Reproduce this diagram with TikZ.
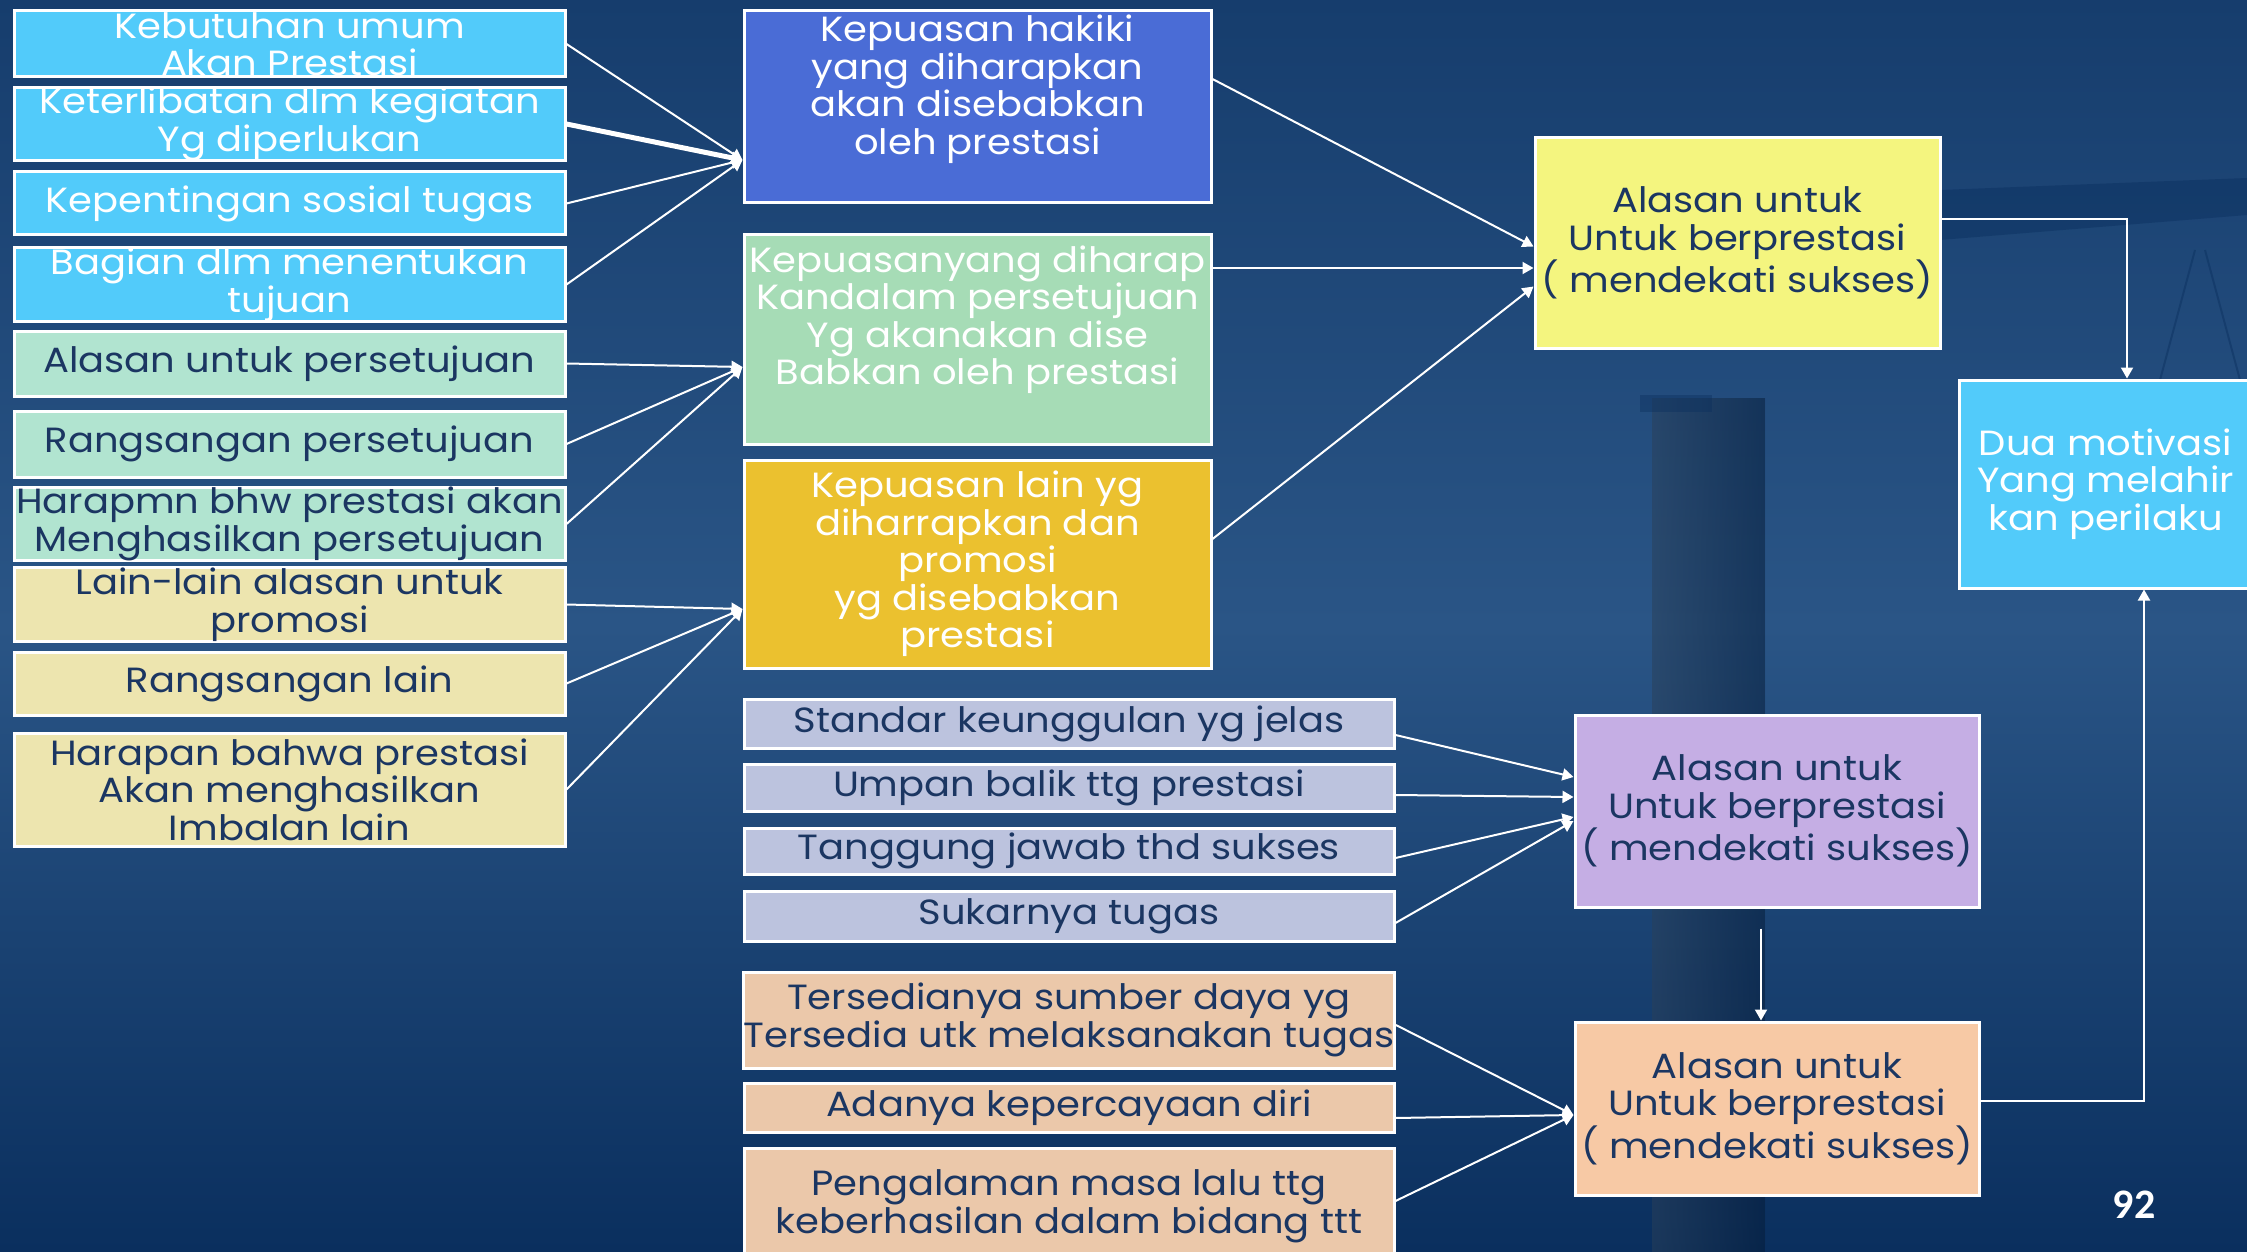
\documentclass[tikz,border=0pt]{standalone}
\usepackage{fontspec}
\setmainfont{Poppins}[FakeStretch=1.1]
\newfontfamily\numfont{Carlito}
\usetikzlibrary{arrows.meta,calc}
\definecolor{bgtop}{HTML}{163D6D}
\definecolor{bgmid}{HTML}{2A5586}
\definecolor{bgbot}{HTML}{0A2F5E}
\definecolor{cyanbox}{HTML}{52CBFA}
\definecolor{mintbox}{HTML}{B1E4D0}
\definecolor{khakibox}{HTML}{EDE5AF}
\definecolor{royalbox}{HTML}{4A6CD6}
\definecolor{greenbox}{HTML}{A6DCB6}
\definecolor{goldbox}{HTML}{EBC12F}
\definecolor{lavbox}{HTML}{BCC3DE}
\definecolor{tanbox}{HTML}{EBC8AA}
\definecolor{yelbox}{HTML}{F4F57F}
\definecolor{purbox}{HTML}{C5AEE4}
\definecolor{peachbox}{HTML}{F7C9A5}
\definecolor{navytxt}{HTML}{1B3662}
\newcommand\bxfont{\fontsize{35}{37.5}\selectfont}
\begin{document}
\begin{tikzpicture}[x=1pt,y=-1pt,
  box/.style={draw=white, line width=3pt, inner sep=0pt, align=center, font=\bxfont},
  wt/.style={text=white},
  dt/.style={text=navytxt},
  txt/.style={align=center, font=\bxfont, inner sep=0pt},
  con/.style={draw=white, line width=2pt, -{Triangle[width=12pt,length=11pt]}},
  plain/.style={draw=white, line width=2pt}]
% background
\fill[top color=bgtop, bottom color=bgbot, middle color=bgmid] (0,0) rectangle (2247,1252);
\useasboundingbox (0,0) rectangle (2247,1252);
% faint balance silhouette
\fill[left color=bgmid!85!white, right color=bgbot, opacity=0.3] (1652,398) rectangle (1765,1252);
\fill[bgbot, opacity=0.4] (1640,395) rectangle (1712,412);
\fill[bgbot, opacity=0.45] (1940,190) -- (2247,178) -- (2247,215) -- (1940,240) -- cycle;
\draw[bgbot, opacity=0.45, line width=2pt] (2195,250) -- (2160,380) (2205,250) -- (2240,380);

% left column
\node[box, fill=cyanbox, wt, minimum width=551, minimum height=66] (l1) at (289.5,44) {Kebutuhan umum\\Akan Prestasi};
\node[box, fill=cyanbox, wt, minimum width=551, minimum height=66] (l2) at (289.5,124) {Keterlibatan dlm kegiatan\\Yg diperlukan};
\node[box, fill=cyanbox, wt, minimum width=551, minimum height=63] (l3) at (289.5,203.5) {Kepentingan sosial tugas};
\node[box, fill=cyanbox, wt, minimum width=551, minimum height=63] (l4) at (289.5,284.5) {Bagian dlm menentukan\\tujuan};
\node[box, fill=mintbox, dt, minimum width=551, minimum height=65] (l5) at (289.5,363.5) {Alasan untuk persetujuan};
\node[box, fill=mintbox, dt, minimum width=551, minimum height=66] (l6) at (289.5,444) {Rangsangan persetujuan};
\node[box, fill=mintbox, dt, minimum width=551, minimum height=66] (l7) at (289.5,524) {Harapmn bhw prestasi akan\\Menghasilkan persetujuan};
\node[box, fill=khakibox, dt, minimum width=551, minimum height=65] (l8) at (289.5,604.5) {Lain-lain alasan untuk\\promosi};
\node[box, fill=khakibox, dt, minimum width=551, minimum height=63] (l9) at (289.5,683.5) {Rangsangan lain};
\node[box, fill=khakibox, dt, minimum width=551, minimum height=113] (l10) at (289.5,789.5) {Harapan bahwa prestasi\\Akan menghasilkan\\Imbalan lain};

% middle top
\node[box, fill=royalbox, minimum width=467, minimum height=192] (A) at (977.5,107) {};
\node[txt, wt] (At) at ([yshift=18pt]A.center) {Kepuasan hakiki\\yang diharapkan\\akan disebabkan\\oleh prestasi};
\node[box, fill=greenbox, minimum width=467, minimum height=209] (B) at (977.5,339.5) {};
\node[txt, wt] (Bt) at ([yshift=20pt]B.center) {Kepuasanyang diharap\\Kandalam persetujuan\\Yg akanakan dise\\Babkan oleh prestasi};
\node[box, fill=goldbox, wt, minimum width=467, minimum height=208] (C) at (977.5,564) {Kepuasan lain yg\\diharrapkan dan\\promosi\\yg disebabkan\\prestasi};

% middle lower
\node[box, fill=lavbox, dt, minimum width=650, minimum height=49] (m1) at (1069,723.5) {Standar keunggulan yg jelas};
\node[box, fill=lavbox, dt, minimum width=650, minimum height=47] (m2) at (1069,787.5) {Umpan balik ttg prestasi};
\node[box, fill=lavbox, dt, minimum width=650, minimum height=46] (m3) at (1069,851) {Tanggung jawab thd sukses};
\node[box, fill=lavbox, dt, minimum width=650, minimum height=50] (m4) at (1069,916) {Sukarnya tugas};
\node[box, fill=tanbox, dt, minimum width=650, minimum height=96] (m5) at (1069,1020) {Tersedianya sumber daya yg\\Tersedia utk melaksanakan tugas};
\node[box, fill=tanbox, dt, minimum width=650, minimum height=49] (m6) at (1069,1107.5) {Adanya kepercayaan diri};
\node[box, fill=tanbox, dt, minimum width=650, minimum height=117] (m7) at (1069,1206.5) {Pengalaman masa lalu ttg\\keberhasilan dalam bidang ttt};

% right
\node[box, fill=yelbox, dt, minimum width=405, minimum height=210] (Y) at (1737.5,243) {Alasan untuk\\Untuk berprestasi\\( mendekati sukses)};
\node[box, fill=purbox, dt, minimum width=404, minimum height=192] (Pu) at (1777,811) {Alasan untuk\\Untuk berprestasi\\( mendekati sukses)};
\node[box, fill=peachbox, dt, minimum width=404, minimum height=173] (Pe) at (1777,1108.5) {Alasan untuk\\Untuk berprestasi\\( mendekati sukses)};
\node[box, fill=cyanbox, wt, minimum width=293, minimum height=208] (D) at (2105.5,484) {Dua motivasi\\Yang melahir\\kan perilaku};

\node[text=white, font=\numfont\bfseries\fontsize{42}{44}\selectfont] (num) at (2134,1205) {92};

% convergence coordinates
\coordinate (Ain) at ([yshift=-53pt]A.west);
\coordinate (Bin) at ([yshift=-27.5pt]B.west);
\coordinate (Cin) at ([yshift=-45pt]C.west);
\coordinate (Aout) at ([yshift=28pt]A.east);
\coordinate (Bout) at ([yshift=71.5pt]B.east);
\coordinate (Cout) at ([yshift=25pt]C.east);
\coordinate (Yin1) at ([yshift=-3.5pt]Y.west);
\coordinate (Yin2) at ([yshift=-25pt]Y.west);
\coordinate (Yin3) at ([yshift=-43.5pt]Y.west);
\coordinate (Yout) at ([yshift=24pt]Y.east);
\coordinate (Dtop) at ([xshift=21.5pt]D.north);
\coordinate (Pout) at ([yshift=7.5pt]Pe.east);
\coordinate (Dbot) at ([xshift=38.5pt]D.south);
\coordinate (pp) at ([xshift=-16pt,yshift=-20pt]Pu.south);
\coordinate (ppe) at ([xshift=-16pt]Pe.north);
\coordinate (m1o) at ([yshift=-11.5pt]m1.east);
\coordinate (m2o) at ([yshift=-7.5pt]m2.east);
\coordinate (m3o) at ([yshift=-7pt]m3.east);
\coordinate (m4o) at ([yshift=-7pt]m4.east);
\coordinate (Pu1) at ([yshift=34pt]Pu.west);
\coordinate (Pu2) at ([yshift=14pt]Pu.west);
\coordinate (Pu3) at ([yshift=-6pt]Pu.west);
\coordinate (Pu4) at ([yshift=-10pt]Pu.west);
\coordinate (m5o) at ([yshift=-5pt]m5.east);
\coordinate (m6o) at ([yshift=-10.5pt]m6.east);
\coordinate (m7o) at ([yshift=5.5pt]m7.east);
\coordinate (Pein) at ([yshift=-6.5pt]Pe.west);

% connectors left
\draw[con] (l1.east) -- (Ain);
\draw[con, line width=5pt] (l2.east) -- (Ain);
\draw[con] (l3.east) -- (Ain);
\draw[con] (l4.east) -- (Ain);
\draw[con] (l5.east) -- (Bin);
\draw[con] (l6.east) -- (Bin);
\draw[con] (l7.east) -- (Bin);
\draw[con] (l8.east) -- (Cin);
\draw[con] (l9.east) -- (Cin);
\draw[con] (l10.east) -- (Cin);
% middle to yellow
\draw[con] (Aout) -- (Yin1);
\draw[con] (Bout) -- (Yin2);
\draw[con] (Cout) -- (Yin3);
% yellow to Dua
\draw[con] (Yout) -| (Dtop);
% lower
\draw[con] (m1o) -- (Pu1);
\draw[con] (m2o) -- (Pu2);
\draw[con] (m3o) -- (Pu3);
\draw[con] (m4o) -- (Pu4);
\draw[con] (m5o) -- (Pein);
\draw[con] (m6o) -- (Pein);
\draw[con] (m7o) -- (Pein);
\draw[con] (pp) -- (ppe);
\draw[con] (Pout) -| (Dbot);
\end{tikzpicture}
\end{document}
